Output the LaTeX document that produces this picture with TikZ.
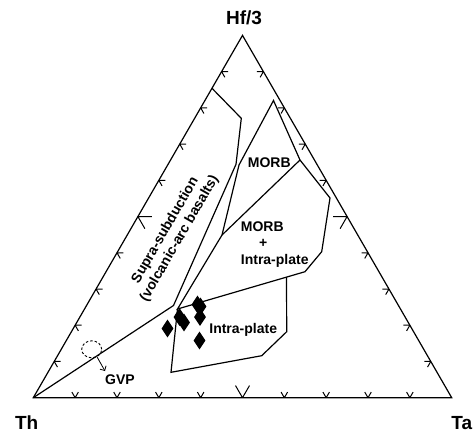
\documentclass[tikz,border=0pt]{standalone}
\usepackage{fontspec}
\setmainfont{Liberation Sans}
\usetikzlibrary{calc,shapes.geometric,arrows.meta}
\tikzset{
  edge/.style={line width=1.2pt, line join=miter},
  field/.style={line width=1.2pt, line join=miter},
  tickmark/.style={line width=1pt},
  title/.style={font=\bfseries\fontsize{19}{22}\selectfont, inner sep=0pt, anchor=base},
  lab/.style={font=\bfseries\fontsize{14}{16.4}\selectfont, inner sep=0pt},
  datapt/.style={shape=diamond, fill=black, draw=none, minimum width=12pt, minimum height=18pt, inner sep=0pt},
}
\begin{document}
\begin{tikzpicture}[x=1pt,y=-1pt]
\useasboundingbox (0,0) rectangle (474,432);
% vertices
\coordinate (Th) at (33.3,397.7);
\coordinate (Ta) at (451.7,397.7);
\coordinate (Hf) at (242.5,35.4);
\draw[edge] (Th) -- (Ta) -- (Hf) -- cycle;
% ticks
\foreach \k in {1,...,9}{
  \pgfmathsetmacro{\L}{\k==5 ? 14 : 6.5}
  \path ($(Th)!\k/10!(Ta)$) coordinate (pb)
        ($(Hf)!\k/10!(Th)$) coordinate (pl)
        ($(Hf)!\k/10!(Ta)$) coordinate (pr);
  \draw[tickmark] (pb) -- ++(-0.5*\L,-0.866*\L) (pb) -- ++(0.5*\L,-0.866*\L);
  \draw[tickmark] (pl) -- ++(\L,0) (pl) -- ++(0.5*\L,0.866*\L);
  \draw[tickmark] (pr) -- ++(-\L,0) (pr) -- ++(-0.5*\L,0.866*\L);
}
% field corners
\coordinate (s1) at (212,88.3);
\coordinate (s2) at (241.3,118.3);
\coordinate (s3) at (236,164.3);
\coordinate (j1) at (173.5,305.5);
\coordinate (j2) at (177.5,309);
\coordinate (m0) at (273.5,100.5);
\coordinate (m1) at (239,165);
\coordinate (m2) at (222,235);
\coordinate (m3) at (300,160);
\coordinate (m4) at (330,198);
\coordinate (m5) at (321.7,251.7);
\coordinate (m6) at (305,271.7);
\coordinate (i1) at ($(j2)!0.855!(m6)$);
\coordinate (i2) at (286.7,331.7);
\coordinate (i3) at (261.7,355.7);
\coordinate (i4) at (171,372.3);
% supra-subduction boundary
\draw[field] (s1) -- (s2) -- (s3) -- (j1) -- (Th);
% MORB and MORB + intra-plate
\draw[field] (j2) -- (m2) -- (m1) -- (m0) -- (m3) -- (m4) -- (m5) -- (m6) -- cycle;
\draw[field] (m3) -- (m2);
% intra-plate
\draw[field] (i1) -- (i2) -- (i3) -- (i4) -- (j2);
% labels
\node[title] (thf) at (244,24) {Hf/3};
\node[title] (tth) at (26.7,429) {Th};
\node[title] (tta) at (461.7,429) {Ta};
\node[lab, anchor=base] (lmorb) at (269.3,167.5) {MORB};
\node[lab, anchor=base west] (lmorb2) at (240.7,231.7) {MORB};
\node[lab] (lplus) at (263.3,243.3) {+};
\node[lab, anchor=base west] (lip2) at (240.7,264.3) {Intra-plate};
\node[lab, anchor=base] (lip) at (243.2,333.3) {Intra-plate};
\node[lab, align=center, rotate=60] (lsupra) at (172.5,234.5) {Supra-subduction\\(volcanic-arc basalts)};
\node[lab, anchor=base] (lgvp) at (120,384) {GVP};
% GVP field
\node[ellipse, draw, dashed, dash pattern=on 2.5pt off 2pt, line width=0.9pt, minimum width=20pt, minimum height=17pt, inner sep=0pt] (gvp) at (91.7,349.3) {};
\coordinate (gvpend) at (105,371);
\draw[line width=0.8pt, -{Straight Barb[length=3.5pt,width=7pt]}] (gvp.-55) -- (gvpend);
% data points
\node[datapt] (d1) at (197.5,304.5) {};
\node[datapt] (d2) at (200.5,306.5) {};
\node[datapt] (d3) at (200,317) {};
\node[datapt] (d4) at (179.5,317) {};
\node[datapt] (d5) at (184,322.5) {};
\node[datapt] (d6) at (167.5,328.5) {};
\node[datapt] (d7) at (199.5,340.5) {};
\end{tikzpicture}
\end{document}
